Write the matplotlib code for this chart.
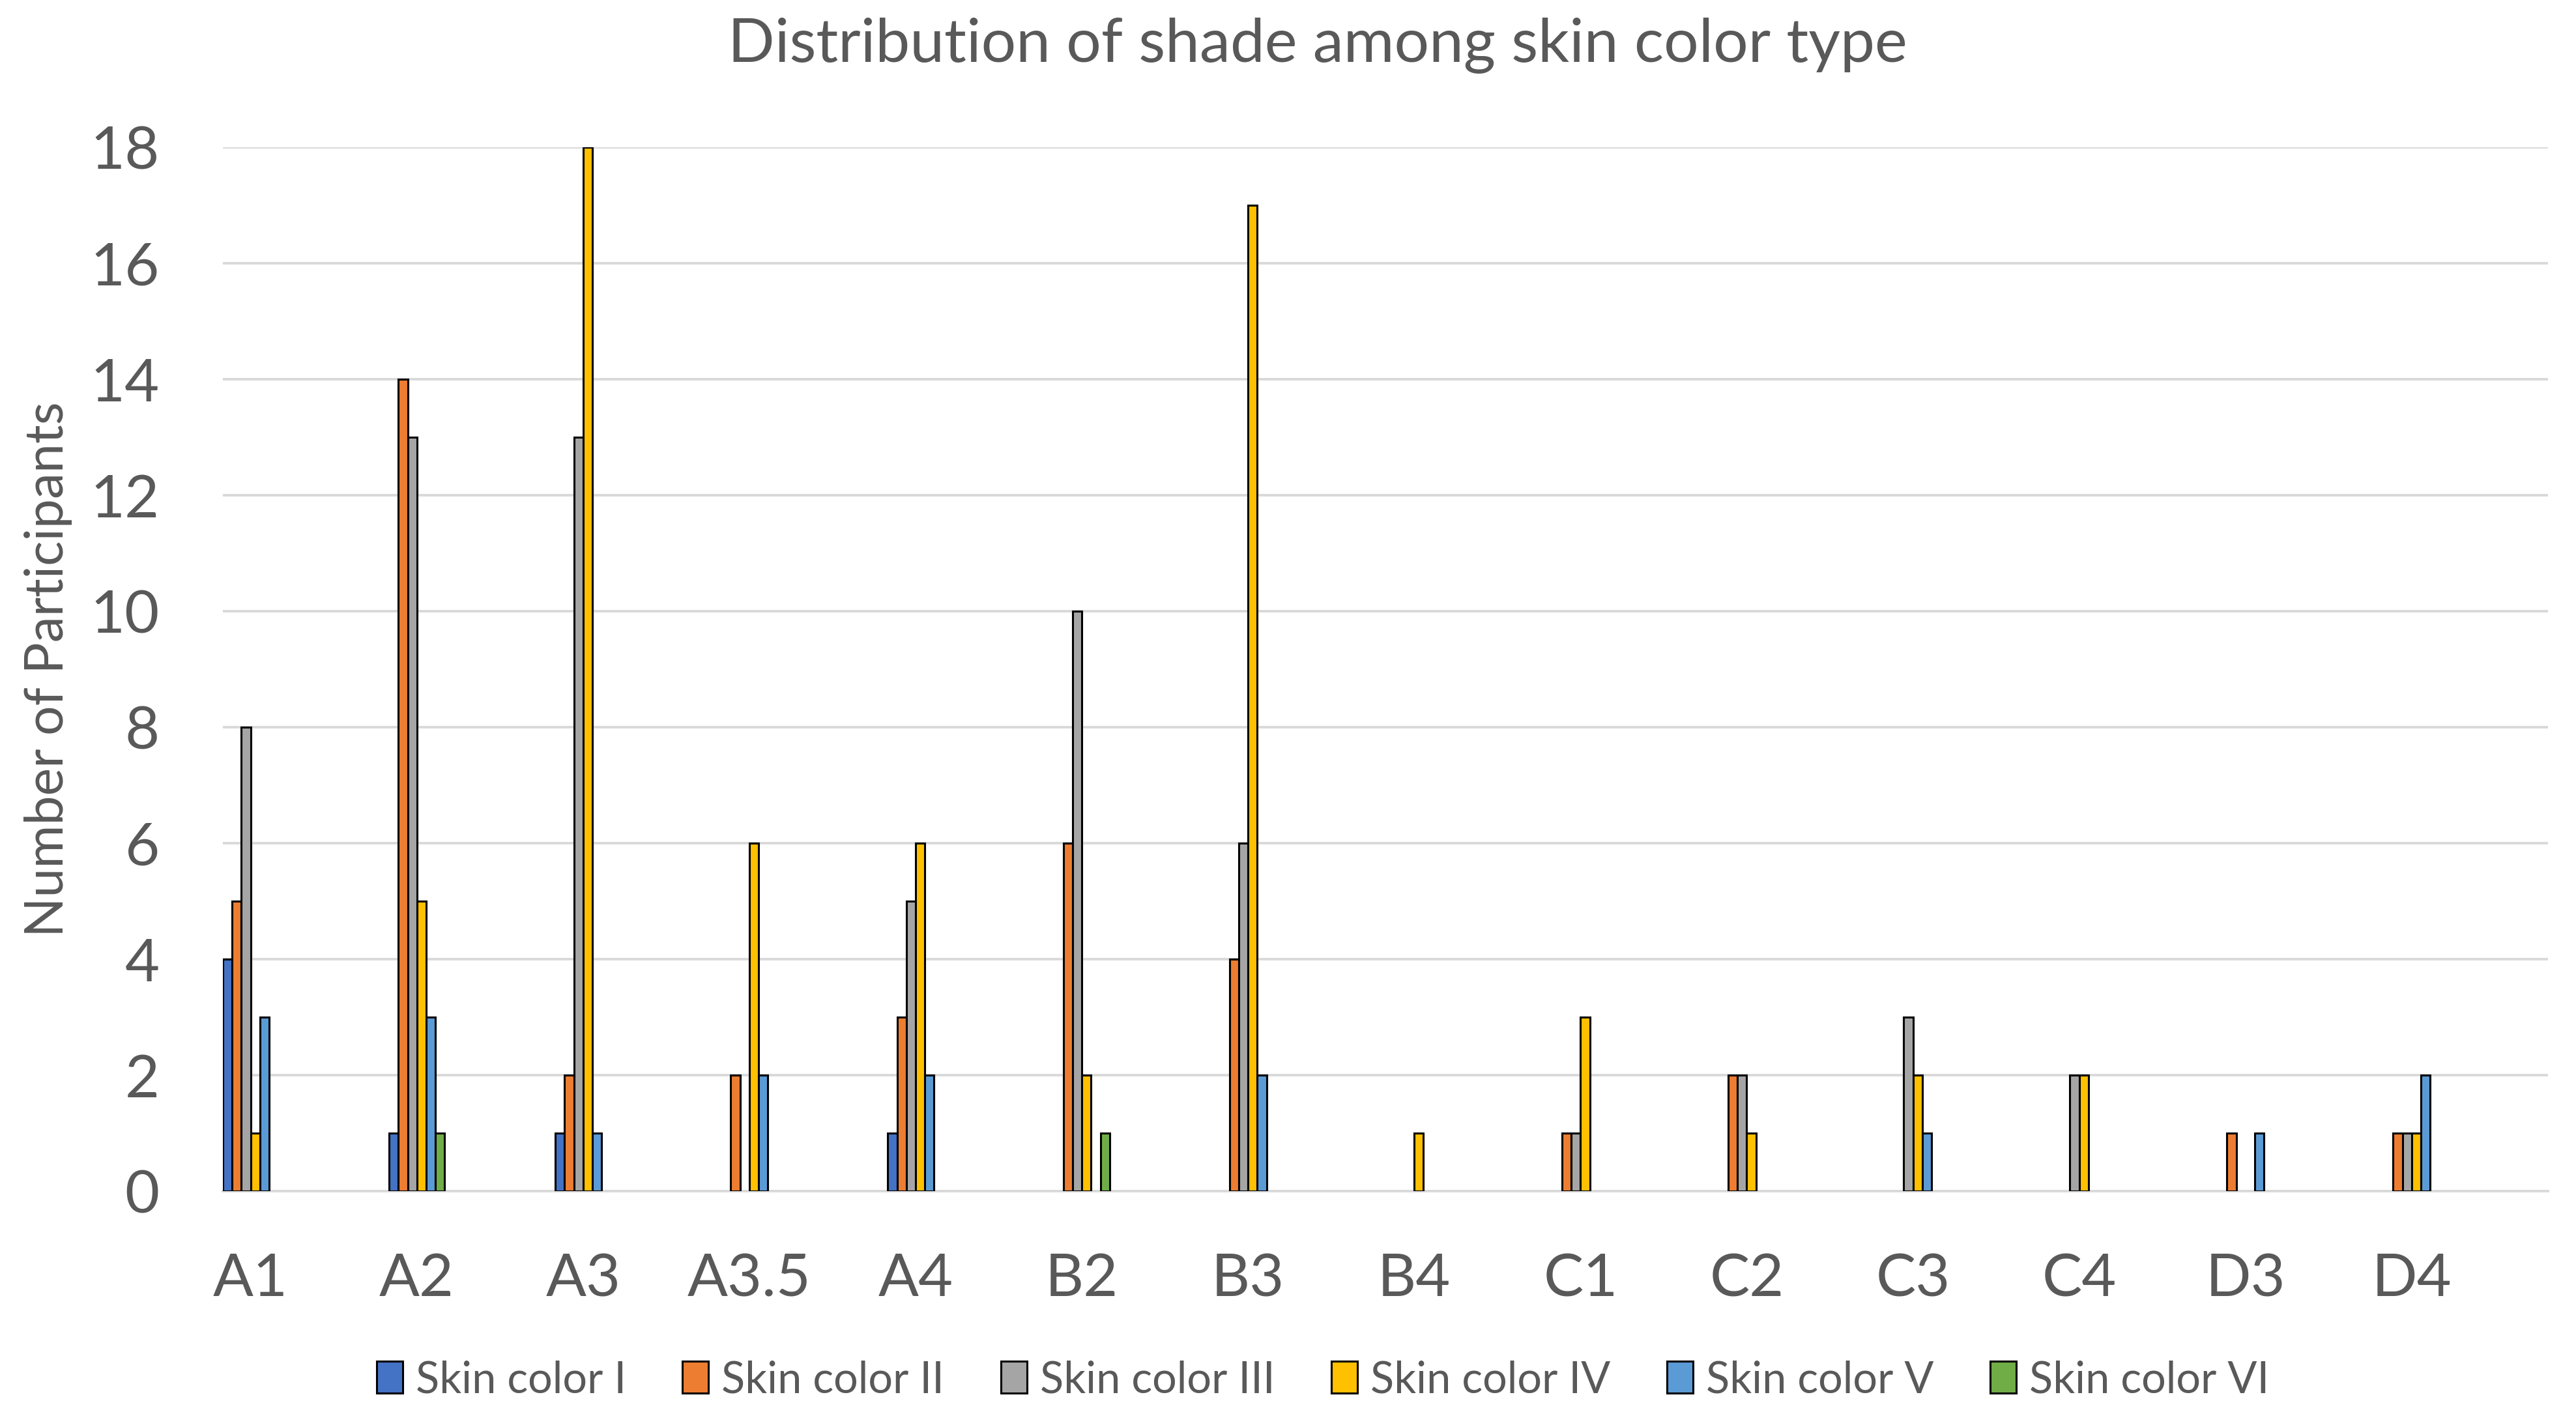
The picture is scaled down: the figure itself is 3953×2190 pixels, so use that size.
import numpy as np
from matplotlib import pyplot as plt
from matplotlib.patches import Patch

plt.rcParams['font.family'] = ['Lato', 'DejaVu Sans']

shades = ['A1', 'A2', 'A3', 'A3.5', 'A4', 'B2', 'B3', 'B4', 'C1', 'C2', 'C3', 'C4', 'D3', 'D4']
skin_1 = [4, 1, 1, 0, 1, 0, 0, 0, 0, 0, 0, 0, 0, 0]
skin_2 = [5, 14, 2, 2, 3, 6, 4, 0, 1, 2, 0, 0, 1, 1]
skin_3 = [8, 13, 13, 0, 5, 10, 6, 0, 1, 2, 3, 2, 0, 1]
skin_4 = [1, 5, 18, 6, 6, 2, 17, 1, 3, 1, 2, 2, 0, 1]
skin_5 = [3, 3, 1, 2, 2, 0, 2, 0, 0, 0, 1, 0, 1, 2]
skin_6 = [0, 1, 0, 0, 0, 1, 0, 0, 0, 0, 0, 0, 0, 0]
series_names = ['Skin color I', 'Skin color II', 'Skin color III',
                'Skin color IV', 'Skin color V', 'Skin color VI']
colors = ['#4472C4', '#ED7D31', '#A5A5A5', '#FFC000', '#5B9BD5', '#70AD47']

series = [skin_1, skin_2, skin_3, skin_4, skin_5, skin_6]
text_col = '#595959'
grid_col = '#D9D9D9'

fig = plt.figure(figsize=(39.53, 21.9), dpi=100)
ax = fig.add_axes([342/3953, 1-1828/2190, (3910-342)/3953, (1828-226)/2190])

x = np.arange(len(shades))
w = 0.0557
for i, vals in enumerate(series):
    bars = ax.bar(x + (i - 2.5) * w, vals, width=w, color=colors[i],
                  edgecolor='black', linewidth=2.2, zorder=3)
    # excel draws nothing for zero counts
    for b, v in zip(bars, vals):
        if v == 0:
            b.set_visible(False)

ax.set_xlim(-3 * w, 13.82)
ax.set_ylim(0, 18)
ax.set_yticks(range(0, 19, 2))
ax.set_xticks(x)
ax.set_xticklabels(shades)
ax.yaxis.grid(True, color=grid_col, linewidth=2.8, zorder=0)
ax.set_axisbelow(True)
for s in ['top', 'right', 'left']:
    ax.spines[s].set_visible(False)
ax.spines['bottom'].set_color(grid_col)
ax.spines['bottom'].set_linewidth(2.8)
ax.tick_params(axis='both', length=0, labelsize=66, labelcolor=text_col)
ax.tick_params(axis='y', pad=70)
ax.tick_params(axis='x', pad=68)

fig.text(74/3953, 1-1027/2190, 'Number of Participants', rotation=90,
         ha='center', va='center', fontsize=58, color=text_col)
fig.text(2022/3953, 1-70/2190, 'Distribution of shade among skin color type',
         ha='center', va='center', fontsize=68, color=text_col)

handles = [Patch(facecolor=c, edgecolor='black', linewidth=2.2) for c in colors]
fig.legend(handles, series_names, loc='center', bbox_to_anchor=(2030/3953, 1-2118/2190),
           ncol=6, frameon=False, fontsize=48, labelcolor=text_col,
           handlelength=0.6, handleheight=0.75, handletextpad=0.3, columnspacing=1.3)

fig.savefig('out.png', dpi=100, facecolor='white')
